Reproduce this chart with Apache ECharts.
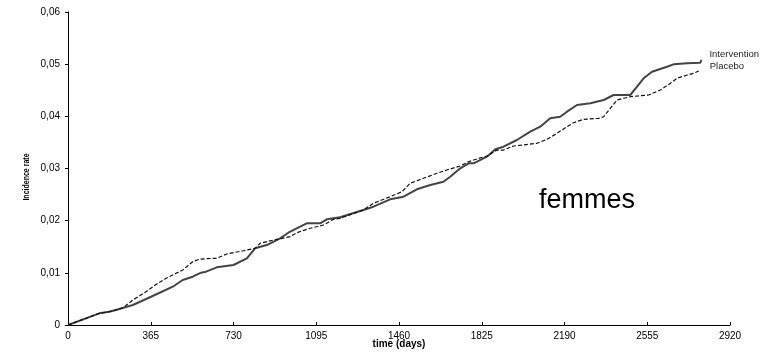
<!DOCTYPE html>
<html>
<head>
<meta charset="utf-8">
<script src="https://cdn.jsdelivr.net/npm/echarts@6/dist/echarts.min.js"></script>
<style>html,body{margin:0;padding:0;background:#fff}#c{width:776px;height:357px}</style>
</head>
<body>
<div id="c"></div>
<script>
const xTicks = [0, 365, 730, 1095, 1460, 1825, 2190, 2555, 2920];
const yTicks = [0, 0.01, 0.02, 0.03, 0.04, 0.05, 0.06];
const seriesNames = ['Intervention', 'Placebo'];
const xAxisTitle = 'time (days)';
const yAxisTitle = 'Incidence rate';
const overlayText = 'femmes';

const interventionDays = [0,79,138,182,212,241,286,335,402,462,506,550,587,609,656,730,789,825,877,936,972,1024,1053,1112,1142,1200,1303,1347,1421,1480,1539,1598,1656,1686,1730,1767,1789,1848,1885,1921,1980,2039,2083,2127,2171,2201,2245,2304,2363,2407,2480,2510,2539,2576,2642,2671,2731,2789,2794];
const interventionRate = [0,0.00128,0.00224,0.00255,0.00288,0.00326,0.00383,0.00479,0.00613,0.00734,0.00863,0.00926,0.01003,0.01022,0.01106,0.01150,0.01279,0.01470,0.01533,0.01662,0.01769,0.01884,0.01949,0.01949,0.02026,0.02064,0.02204,0.02268,0.02409,0.02459,0.02601,0.02683,0.02747,0.02843,0.03004,0.03100,0.03100,0.03226,0.03368,0.03418,0.03546,0.03705,0.03801,0.03962,0.03993,0.04089,0.04217,0.04250,0.04313,0.04409,0.04409,0.04568,0.04729,0.04855,0.04951,0.04997,0.05016,0.05028,0.05080];

const placeboDays = [0,79,138,182,241,286,344,396,433,477,506,550,578,609,656,700,774,825,847,921,980,1009,1068,1127,1171,1200,1303,1347,1421,1473,1509,1568,1627,1671,1730,1767,1789,1848,1892,1921,1965,2069,2113,2157,2201,2230,2274,2340,2363,2392,2422,2451,2480,2561,2613,2657,2686,2731,2760,2782];
const placeboRate = [0,0.00128,0.00224,0.00255,0.00326,0.00479,0.00638,0.00799,0.00895,0.00991,0.01054,0.01213,0.01259,0.01271,0.01279,0.01361,0.01424,0.01470,0.01566,0.01643,0.01693,0.01769,0.01854,0.01917,0.02026,0.02045,0.02204,0.02333,0.02459,0.02555,0.02716,0.02812,0.02908,0.02971,0.03048,0.03130,0.03163,0.03240,0.03354,0.03354,0.03431,0.03483,0.03560,0.03675,0.03801,0.03878,0.03943,0.03962,0.03993,0.04154,0.04313,0.04346,0.04376,0.04409,0.04505,0.04633,0.04729,0.04792,0.04825,0.04869];

const zip = (a, b) => a.map((v, i) => [v, b[i]]);
const FONT = '"Liberation Sans", Arial, sans-serif';

const chart = echarts.init(document.getElementById('c'), null, {renderer: 'canvas'});
chart.setOption({
  animation: false,
  backgroundColor: '#fff',
  grid: {left: 68, right: 46, top: 12, bottom: 32, containLabel: false, outerBoundsMode: 'none'},
  xAxis: {
    type: 'value', min: xTicks[0], max: xTicks[xTicks.length - 1], interval: 365,
    name: xAxisTitle, nameLocation: 'middle', nameGap: 14, nameMoveOverlap: false,
    nameTextStyle: {fontFamily: FONT, fontSize: 10, fontWeight: 'bold', color: '#000', verticalAlign: 'top'},
    axisLine: {lineStyle: {color: '#000', width: 1}},
    axisTick: {show: true, inside: true, length: 3, lineStyle: {color: '#000'}},
    axisLabel: {fontFamily: FONT, fontSize: 10, color: '#000', margin: 6,
      formatter: v => String(v)},
    splitLine: {show: false}
  },
  yAxis: {
    type: 'value', min: yTicks[0], max: yTicks[yTicks.length - 1], interval: 0.01,
    axisLine: {show: true, lineStyle: {color: '#000', width: 1}},
    axisTick: {show: true, inside: false, length: 3, lineStyle: {color: '#000'}},
    axisLabel: {fontFamily: FONT, fontSize: 10, color: '#000', margin: 8,
      formatter: v => v === 0 ? '0' : v.toFixed(2).replace('.', ',')},
    splitLine: {show: false}
  },
  series: [
    {
      name: seriesNames[0], type: 'line', data: zip(interventionDays, interventionRate),
      showSymbol: false, symbol: 'none',
      lineStyle: {color: '#444', width: 2},
      endLabel: {show: true, formatter: '{a}', fontFamily: FONT, fontSize: 9.5, color: '#222', offset: [0, -6]}
    },
    {
      name: seriesNames[1], type: 'line', data: zip(placeboDays, placeboRate),
      showSymbol: false, symbol: 'none',
      lineStyle: {color: '#111', width: 1.2, type: [4, 2]},
      endLabel: {show: true, formatter: '{a}', fontFamily: FONT, fontSize: 9.5, color: '#222', offset: [3, -5]}
    }
  ],
  graphic: [
    {
      type: 'text', x: 27, y: 177, rotation: Math.PI / 2, scaleX: 0.78,
      style: {text: yAxisTitle, fontFamily: FONT, fontSize: 9, fontWeight: 'bold', fill: '#000',
        align: 'center', verticalAlign: 'middle'}
    },
    {
      type: 'text', left: 539, top: 187,
      style: {text: overlayText, fontFamily: FONT, fontSize: 27, fill: '#000'}
    }
  ]
});
</script>
</body>
</html>
